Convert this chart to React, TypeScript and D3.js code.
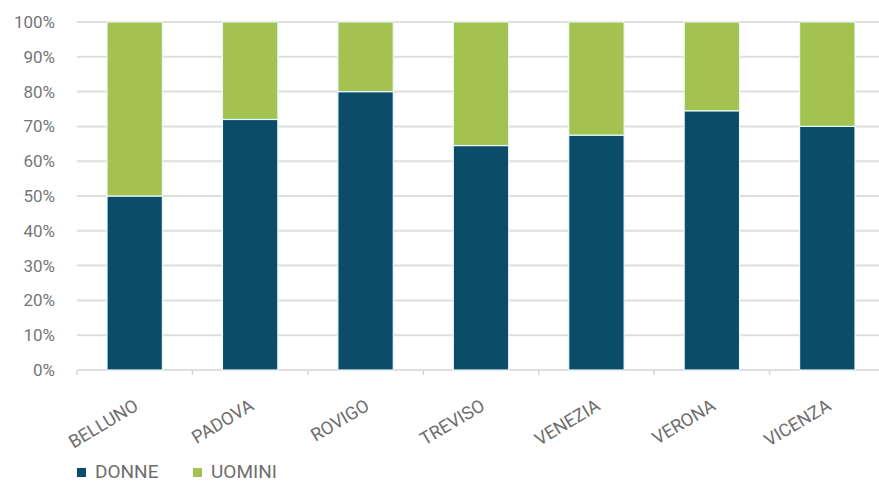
import React from "react";
import * as d3 from "d3";

const categories = ["BELLUNO", "PADOVA", "ROVIGO", "TREVISO", "VENEZIA", "VERONA", "VICENZA"];
const donne = [50, 72, 80, 64.5, 67.5, 74.5, 70];
const uomini = [50, 28, 20, 35.5, 32.5, 25.5, 30];
const yTicks = [0, 10, 20, 30, 40, 50, 60, 70, 80, 90, 100];
const seriesNames = ["DONNE", "UOMINI"];
const colors = ["#0b4d68", "#a3c250"];

export default function App() {
  const W = 879, H = 484;
  const x = d3.scaleBand().domain(categories).range([77, 885]).paddingInner(0.52).paddingOuter(0.26);
  const y = d3.scaleLinear().domain([0, 100]).range([370, 22]);
  const band = d3.scaleBand().domain(categories).range([77, 885]);
  const rows = categories.map((c, i) => ({ cat: c, DONNE: donne[i], UOMINI: uomini[i] }));
  const stack = d3.stack<any>().keys(seriesNames)(rows);
  const font = "Roboto, 'Noto Sans', sans-serif";
  return (
    <svg width={W} height={H} style={{ position: "absolute", left: 0, top: 0, background: "#fff" }}>
      {yTicks.map((t) => (
        <g key={t}>
          {t > 0 && <line x1={77} x2={879} y1={y(t)} y2={y(t)} stroke="#dedede" strokeWidth={2} />}
          <text x={55} y={y(t)} dy="0.35em" textAnchor="end" fontFamily={font} fontSize={17} fill="#767676">{t}%</text>
        </g>
      ))}
      <line x1={77} x2={879} y1={y(0)} y2={y(0)} stroke="#d6d6d6" strokeWidth={1.5} />
      {categories.map((c) => (
        <line key={"tk" + c} x1={band(c)!} x2={band(c)!} y1={370} y2={375} stroke="#d6d6d6" strokeWidth={1.5} />
      ))}
      {stack.map((s, si) => (
        <g key={s.key}>
          {s.map((d, i) => (
            <rect key={i} x={x(categories[i])!} width={x.bandwidth()} y={y(d[1])} height={y(d[0]) - y(d[1])}
              fill={colors[si]} stroke="#e9f8fb" strokeWidth={1.2} />
          ))}
        </g>
      ))}
      {categories.map((c) => {
        const cx = band(c)! + band.bandwidth() / 2 + 5;
        return (
          <text key={"l" + c} transform={`translate(${cx},${409}) rotate(-31)`} textAnchor="end"
            fontFamily={font} fontSize={18} fill="#6e6e6e">{c}</text>
        );
      })}
      {seriesNames.map((n, i) => {
        const lx = [77, 193][i];
        return (
          <g key={n}>
            <rect x={lx} y={468} width={9} height={9} fill={colors[i]} />
            <text x={lx + 18} y={478} fontFamily={font} fontSize={19} fill="#6e6e6e">{n}</text>
          </g>
        );
      })}
    </svg>
  );
}
